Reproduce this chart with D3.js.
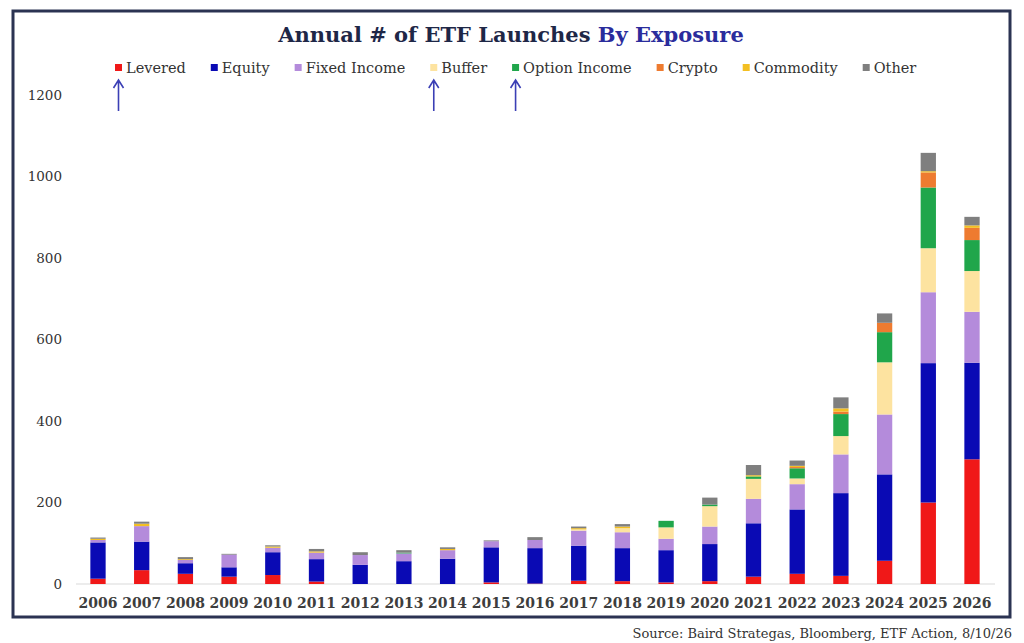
<!DOCTYPE html>
<html>
<head>
<meta charset="utf-8">
<script src="https://cdn.jsdelivr.net/npm/d3@7"></script>
<style>
  body { margin: 0; background: #fff; }
  svg { display: block; }
</style>
</head>
<body>
<svg id="chart" width="1024" height="643"></svg>
<script>
// chart data
const years = ['2006','2007','2008','2009','2010','2011','2012','2013','2014','2015','2016',
  '2017','2018','2019','2020','2021','2022','2023','2024','2025','2026'];
const levered      = [13, 34, 25, 18, 22,  6,  0,  0,  0,  4,  1,  8,  7,  4,  7,  18,  25,  20,  57, 200, 306];
const equity       = [89, 70, 26, 23, 56, 55, 47, 56, 62, 86, 87, 86, 81, 79, 91, 131, 158, 203, 212, 342, 237];
const fixedIncome  = [ 6, 38,  8, 31, 11, 16, 24, 19, 21, 15, 20, 37, 39, 28, 43,  60,  62,  95, 147, 174, 125];
const buffer       = [ 0,  0,  0,  0,  0,  0,  0,  0,  0,  0,  0,  3, 10, 28, 50,  49,  14,  45, 128, 108, 100];
const optionIncome = [ 0,  0,  0,  0,  0,  0,  0,  2,  0,  0,  0,  0,  0, 16,  4,   6,  25,  54,  74, 149,  76];
const crypto       = [ 0,  0,  0,  0,  0,  0,  0,  0,  0,  0,  0,  0,  0,  0,  0,   0,   3,   6,  23,  37,  30];
const commodity    = [ 3,  6,  2,  0,  3,  3,  0,  0,  3,  0,  0,  3,  4,  0,  0,   3,   3,   8,   0,   3,   6];
const other        = [ 3,  5,  5,  2,  3,  6,  7,  6,  4,  2,  7,  4,  6,  0, 17,  25,  13,  27,  23,  45,  21];

const seriesNames = ['Levered','Equity','Fixed Income','Buffer','Option Income','Crypto','Commodity','Other'];
const seriesValues = [levered, equity, fixedIncome, buffer, optionIncome, crypto, commodity, other];
const yTicks = [0, 200, 400, 600, 800, 1000, 1200];
const arrowed = ['Levered', 'Buffer', 'Option Income'];

const colors = ['#f01818', '#0a0ab4', '#b48bdb', '#fde3a0', '#20a64b', '#ee7b30', '#f3bf22', '#7f7f7f'];
const serif = '"DejaVu Serif", "Liberation Serif", serif';

const svg = d3.select('#chart');

// frame
svg.append('rect')
  .attr('x', 13).attr('y', 11)
  .attr('width', 997).attr('height', 606)
  .attr('fill', 'none')
  .attr('stroke', '#2b3352')
  .attr('stroke-width', 3);

// title, two colours
const title = svg.append('text')
  .attr('x', 511).attr('y', 42)
  .attr('text-anchor', 'middle')
  .style('font-family', serif)
  .style('font-weight', 'bold')
  .style('font-size', '21px');
title.append('tspan').attr('fill', '#1e2747').text('Annual # of ETF Launches ');
title.append('tspan').attr('fill', '#2a2c9c').text('By Exposure');

// build table for the stack
const table = years.map((y, i) => {
  const row = { year: y };
  seriesNames.forEach((s, k) => { row[s] = seriesValues[k][i]; });
  return row;
});
const stacked = d3.stack().keys(seriesNames)(table);

const x = d3.scaleBand()
  .domain(years)
  .range([68.5, 1001.5])
  .paddingInner(0.65)
  .paddingOuter(0.5);

const y = d3.scaleLinear()
  .domain([0, 1200])
  .range([584, 95]);

const color = d3.scaleOrdinal().domain(seriesNames).range(colors);

// baseline
svg.append('line')
  .attr('x1', 76).attr('x2', 995)
  .attr('y1', y(0)).attr('y2', y(0))
  .attr('stroke', '#d9d9d9')
  .attr('stroke-width', 1);

// bars
svg.append('g')
  .selectAll('g')
  .data(stacked)
  .join('g')
    .attr('fill', d => color(d.key))
  .selectAll('rect')
  .data(d => d)
  .join('rect')
    .attr('x', d => x(d.data.year))
    .attr('width', x.bandwidth())
    .attr('y', d => y(d[1]))
    .attr('height', d => y(d[0]) - y(d[1]));

// y axis, labels only
const yAxis = svg.append('g')
  .attr('transform', 'translate(62,0)')
  .call(d3.axisLeft(y).tickValues(yTicks).tickFormat(d3.format('d')).tickSize(0).tickPadding(0));
yAxis.select('.domain').remove();
yAxis.selectAll('text')
  .style('font-family', serif)
  .style('font-size', '13.5px')
  .attr('fill', '#333');

// x axis, labels only
const xAxis = svg.append('g')
  .attr('transform', `translate(0,${y(0)})`)
  .call(d3.axisBottom(x).tickSize(0).tickPadding(14));
xAxis.select('.domain').remove();
xAxis.selectAll('text')
  .style('font-family', serif)
  .style('font-weight', 'bold')
  .style('font-size', '14px')
  .attr('fill', '#3d3d3d');

// legend, laid out by text width
const legend = svg.append('g');
let lx = 115;
const legendPos = {};
seriesNames.forEach(name => {
  legend.append('rect')
    .attr('x', lx).attr('y', 64)
    .attr('width', 7).attr('height', 7)
    .attr('fill', color(name));
  legendPos[name] = lx + 3.5;
  const t = legend.append('text')
    .attr('x', lx + 11).attr('y', 73)
    .style('font-family', serif)
    .style('font-size', '14.5px')
    .attr('fill', '#333')
    .text(name);
  lx += 11 + t.node().getComputedTextLength() + 25;
});

// blue arrows under some legend keys
arrowed.forEach(name => {
  const ax = legendPos[name];
  const p = d3.path();
  p.moveTo(ax, 111); p.lineTo(ax, 80);
  p.moveTo(ax - 5, 88); p.lineTo(ax, 80); p.lineTo(ax + 5, 88);
  svg.append('path')
    .attr('d', p.toString())
    .attr('fill', 'none')
    .attr('stroke', '#3b3fb5')
    .attr('stroke-width', 1.6);
});

// source note
svg.append('text')
  .attr('x', 1012).attr('y', 638)
  .attr('text-anchor', 'end')
  .style('font-family', serif)
  .style('font-size', '13px')
  .attr('fill', '#333')
  .text('Source: Baird Strategas, Bloomberg, ETF Action, 8/10/26');
</script>
</body>
</html>
